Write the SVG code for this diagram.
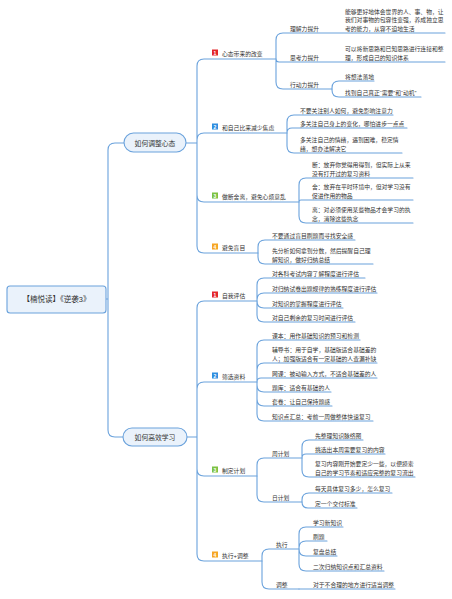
<svg xmlns="http://www.w3.org/2000/svg" width="452" height="599" viewBox="0 0 452 599">
<style>
text{font-family:"Liberation Sans","Noto Sans CJK SC",sans-serif;fill:#333;}
.t{font-size:5.8px;}
.m{font-size:6.8px;text-anchor:middle;}
.r{font-size:7.5px;text-anchor:middle;}
.c path{fill:none;stroke:#6aa2dc;stroke-width:1.1;stroke-linecap:round;}
.box{fill:#eaf2fb;stroke:#6aa2dc;stroke-width:1.1;}
.bn{font-size:5px;font-weight:bold;fill:#fff;text-anchor:middle;}
.b1{fill:#e3262b;}.b2{fill:#2f8ee0;}.b3{fill:#7cc243;}.b4{fill:#f6a623;}
</style>
<rect width="452" height="599" fill="#fff"/>
<g class="c" id="connectors">
<path d="M106 299 H108 M108 299 V150 Q108 143 115 143 H124 M108 299 V430 Q108 437 115 437 H123"/>
<path d="M186 143 H197 M197 143 V66 Q197 59 204 59 H276 M197 143 V140 Q197 133 204 133 H287 M197 143 V195 Q197 202 204 202 H299 M197 143 V246 Q197 253 204 253 H258"/>
<path d="M276 59 V40 Q276 33 283 33 H445 M276 59 Q276 62 279 62 H445 M276 59 V82 Q276 89 283 89 H332"/>
<path d="M332 89 V88 Q332 81 339 81 H374 M332 89 V90 Q332 97 339 97 H421"/>
<path d="M287 133 V122 Q287 115 294 115 H393 M287 133 Q287 128 292 128 H407 M287 133 V146 Q287 153 294 153 H402"/>
<path d="M299 202 V185 Q299 178 306 178 H413 M299 202 Q299 200 301 200 H413 M299 202 V216 Q299 223 306 223 H413"/>
<path d="M258 253 V247 Q258 240 265 240 H355 M258 253 V257 Q258 264 265 264 H373"/>
<path d="M187 437 H197 M197 437 V308 Q197 301 204 301 H257 M197 437 V389 Q197 382 204 382 H257 M197 437 V469 Q197 476 204 476 H257 M197 437 V554 Q197 561 204 561 H262"/>
<path d="M257 301 V285 Q257 278 264 278 H365 M257 301 V300 Q257 293 264 293 H377 M257 301 V301 Q257 308 264 308 H343 M257 301 V315 Q257 322 264 322 H355"/>
<path d="M257 382 V347 Q257 340 264 340 H360 M257 382 V370 Q257 363 264 363 H377 M257 382 Q257 378 261 378 H377 M257 382 V385 Q257 392 264 392 H331 M257 382 V399 Q257 406 264 406 H332 M257 382 V414 Q257 421 264 421 H373"/>
<path d="M257 476 V465 Q257 458 264 458 H302 M257 476 V495 Q257 502 264 502 H302"/>
<path d="M302 458 V447 Q302 440 309 440 H363 M302 458 Q302 454 306 454 H385 M302 458 V470 Q302 477 309 477 H415"/>
<path d="M302 502 V500 Q302 493 309 493 H392 M302 502 Q302 508 308 508 H357"/>
<path d="M262 561 V556 Q262 549 269 549 H299 M262 561 V582 Q262 589 269 589 H299"/>
<path d="M299 549 V534 Q299 527 306 527 H343 M299 549 V548 Q299 541 306 541 H327 M299 549 Q299 556 306 556 H337 M299 549 V564 Q299 571 306 571 H384 M299 589 H395"/>
</g>
<g id="root"><rect class="box" x="7" y="286" width="99" height="27" rx="3"/><text class="r" x="56.5" y="302">【楠悦读】《逆袭3》</text></g>
<g id="main1"><rect class="box" x="124" y="133" width="62" height="19" rx="9.5"/><text class="m" x="155" y="145.5">如何调整心态</text></g>
<g id="main2"><rect class="box" x="123" y="428" width="64" height="18" rx="9"/><text class="m" x="155" y="439.8">如何高效学习</text></g>

<g id="a1"><rect class="b1" x="212" y="49.5" width="6" height="6"/><text class="bn" x="215" y="54.5">1</text><text class="t" x="222" y="55.5">心态带来的改变</text></g>
<g id="a1-1"><text class="t" x="290" y="30.5">理解力提升</text></g>
<g id="a1-1-1"><text class="t" x="345" y="14">能够更好地体会世界的人、事、物，让</text><text class="t" x="345" y="22.3">我们对事物的包容性变强，养成独立思</text><text class="t" x="345" y="30.5">考的能力，从容不迫地生活</text></g>
<g id="a1-2"><text class="t" x="290" y="59.5">思考力提升</text></g>
<g id="a1-2-1"><text class="t" x="345" y="51.2">可以将新思路和已知思路进行连接和整</text><text class="t" x="345" y="59.5">理，形成自己的知识体系</text></g>
<g id="a1-3"><text class="t" x="290" y="86.5">行动力提升</text></g>
<g id="a1-3-1"><text class="t" x="345" y="78.5">将想法落地</text></g>
<g id="a1-3-2"><text class="t" x="345" y="94.5">找到自己真正“需要”和“动机”</text></g>

<g id="a2"><rect class="b2" x="212" y="123.5" width="6" height="6"/><text class="bn" x="215" y="128.5">2</text><text class="t" x="222" y="129.5">和自己比来减少焦虑</text></g>
<g id="a2-1"><text class="t" x="300" y="112.5">不要关注别人如何，避免影响注意力</text></g>
<g id="a2-2"><text class="t" x="300" y="125.5">多关注自己身上的变化，哪怕进步一点点</text></g>
<g id="a2-3"><text class="t" x="300" y="142.2">多关注自己的情绪，遇到困难，稳定情</text><text class="t" x="300" y="150.5">绪，想办法解决它</text></g>

<g id="a3"><rect class="b3" x="212" y="192.5" width="6" height="6"/><text class="bn" x="215" y="197.5">3</text><text class="t" x="222" y="198.5">做断舍离，避免心烦意乱</text></g>
<g id="a3-1"><text class="t" x="312" y="167.2">断：放弃你觉得用得到，但实际上从来</text><text class="t" x="312" y="175.5">没有打开过的复习资料</text></g>
<g id="a3-2"><text class="t" x="312" y="189.2">舍：放弃在平时环境中，但对学习没有</text><text class="t" x="312" y="197.5">促进作用的物品</text></g>
<g id="a3-3"><text class="t" x="312" y="212.2">离：对必须使用某些物品才会学习的执</text><text class="t" x="312" y="220.5">念，消除这些执念</text></g>

<g id="a4"><rect class="b4" x="212" y="243.5" width="6" height="6"/><text class="bn" x="215" y="248.5">4</text><text class="t" x="222" y="249.5">避免盲目</text></g>
<g id="a4-1"><text class="t" x="272" y="237.5">不要通过盲目刷题而寻找安全感</text></g>
<g id="a4-2"><text class="t" x="272" y="253.2">先分析如何拿到分数，然后提醒自己理</text><text class="t" x="272" y="261.5">解知识，做好归纳总结</text></g>

<g id="b1"><rect class="b1" x="212" y="291.5" width="6" height="6"/><text class="bn" x="215" y="296.5">1</text><text class="t" x="222" y="297.5">自我评估</text></g>
<g id="b1-1"><text class="t" x="272" y="275.5">对各科考试内容了解程度进行评估</text></g>
<g id="b1-2"><text class="t" x="272" y="290.5">对归纳试卷出题规律的熟练程度进行评估</text></g>
<g id="b1-3"><text class="t" x="272" y="305.5">对知识的掌握程度进行评估</text></g>
<g id="b1-4"><text class="t" x="272" y="319.5">对自己剩余的复习时间进行评估</text></g>

<g id="b2"><rect class="b2" x="212" y="372.5" width="6" height="6"/><text class="bn" x="215" y="377.5">2</text><text class="t" x="222" y="378.5">筛选资料</text></g>
<g id="b2-1"><text class="t" x="272" y="337.5">课本：用作基础知识的预习和检测</text></g>
<g id="b2-2"><text class="t" x="272" y="352.2">辅导书：用于自学，基础版适合基础差的</text><text class="t" x="272" y="360.5">人；加强版适合有一定基础的人查漏补缺</text></g>
<g id="b2-3"><text class="t" x="272" y="375.5">网课：被动输入方式，不适合基础差的人</text></g>
<g id="b2-4"><text class="t" x="272" y="389.5">题库：适合有基础的人</text></g>
<g id="b2-5"><text class="t" x="272" y="403.5">套卷：让自己保持题感</text></g>
<g id="b2-6"><text class="t" x="272" y="418.5">知识点汇总：考前一周做整体快速复习</text></g>

<g id="b3"><rect class="b3" x="212" y="466.5" width="6" height="6"/><text class="bn" x="215" y="471.5">3</text><text class="t" x="222" y="472.5">制定计划</text></g>
<g id="b3-1"><text class="t" x="272" y="455.5">周计划</text></g>
<g id="b3-1-1"><text class="t" x="315" y="437.5">先整理知识脉络图</text></g>
<g id="b3-1-2"><text class="t" x="315" y="451.5">挑选出本周需要复习的内容</text></g>
<g id="b3-1-3"><text class="t" x="315" y="466.2">复习内容刚开始要定少一些，以便摸索</text><text class="t" x="315" y="474.5">自己的学习节奏和适应完整的复习流出</text></g>
<g id="b3-2"><text class="t" x="272" y="499.5">日计划</text></g>
<g id="b3-2-1"><text class="t" x="315" y="490.5">每天具体复习多少，怎么复习</text></g>
<g id="b3-2-2"><text class="t" x="315" y="505.5">定一个交付标准</text></g>

<g id="b4"><rect class="b4" x="212" y="551.5" width="6" height="6"/><text class="bn" x="215" y="556.5">4</text><text class="t" x="222" y="557.5">执行+调整</text></g>
<g id="b4-1"><text class="t" x="276" y="546.5">执行</text></g>
<g id="b4-1-1"><text class="t" x="313" y="524.5">学习新知识</text></g>
<g id="b4-1-2"><text class="t" x="313" y="538.5">刷题</text></g>
<g id="b4-1-3"><text class="t" x="313" y="553.5">复盘总结</text></g>
<g id="b4-1-4"><text class="t" x="313" y="568.5">二次归纳知识点和汇总资料</text></g>
<g id="b4-2"><text class="t" x="276" y="586.5">调整</text></g>
<g id="b4-2-1"><text class="t" x="313" y="586.5">对于不合理的地方进行适当调整</text></g>
</svg>
